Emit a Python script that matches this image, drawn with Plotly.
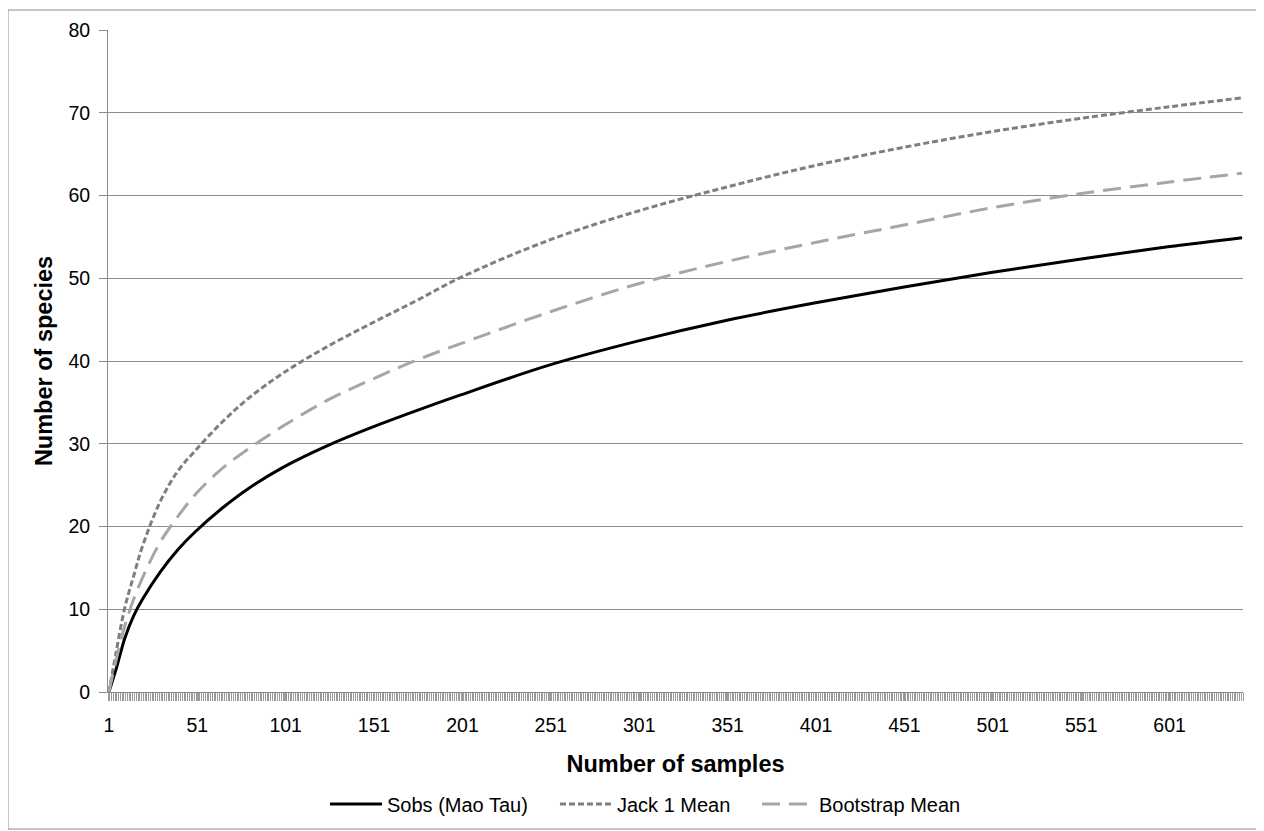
import plotly.graph_objects as go

# sample numbers at which values were read
samples = [1, 5, 10, 15, 20, 30, 40, 50, 65, 80, 100, 125, 150, 175, 200,
           250, 300, 350, 400, 450, 500, 550, 600, 642]

sobs = [0, 2.7, 6.5, 9.2, 11.2, 14.5, 17.2, 19.4, 22.2, 24.6, 27.2, 29.8, 32.0,
        34.0, 35.9, 39.5, 42.4, 44.9, 47.0, 48.9, 50.7, 52.3, 53.8, 54.9]

jack1 = [0, 4.7, 10.2, 14.0, 17.6, 23.0, 26.7, 29.2, 32.6, 35.5, 38.6, 41.8, 44.6,
         47.3, 50.1, 54.6, 58.1, 61.0, 63.6, 65.8, 67.7, 69.3, 70.7, 71.8]

bootstrap = [0, 3.8, 8.0, 11.2, 13.8, 18.1, 21.2, 23.9, 27.0, 29.4, 32.2, 35.3, 37.8,
             40.1, 42.1, 45.9, 49.3, 52.0, 54.3, 56.4, 58.5, 60.2, 61.6, 62.7]

x_ticks = [1, 51, 101, 151, 201, 251, 301, 351, 401, 451, 501, 551, 601]
y_ticks = [0, 10, 20, 30, 40, 50, 60, 70, 80]
n_samples = 642

FONT = "Liberation Sans, Arial, sans-serif"
TICK_SIZE = 19.5
LEGEND_SIZE = 20
TITLE_SIZE = 23.5

fig = go.Figure()
fig.add_trace(go.Scatter(x=samples, y=sobs, name="Sobs (Mao Tau)", mode="lines",
                         legend="legend",
                         line=dict(color="#000000", width=3, shape="spline")))
fig.add_trace(go.Scatter(x=samples, y=jack1, name="Jack 1 Mean", mode="lines",
                         legend="legend2",
                         line=dict(color="#7f7f7f", width=3, shape="spline", dash="6px,3px")))
fig.add_trace(go.Scatter(x=samples, y=bootstrap, name="Bootstrap Mean", mode="lines",
                         legend="legend3",
                         line=dict(color="#a6a6a6", width=3, shape="spline", dash="18px,9px")))

leg_common = dict(orientation="h", xanchor="left", y=-0.169, yanchor="middle",
                  font=dict(size=LEGEND_SIZE), itemwidth=52, bgcolor="rgba(0,0,0,0)")

fig.update_layout(
    width=1256, height=823,
    margin=dict(l=100, r=21, t=22, b=139, autoexpand=False),
    paper_bgcolor="white", plot_bgcolor="white",
    font=dict(family=FONT, size=TICK_SIZE, color="black"),
    showlegend=True,
    legend=dict(x=0.1912, **leg_common),
    legend2=dict(x=0.3938, **leg_common),
    legend3=dict(x=0.5718, **leg_common),
    xaxis=dict(
        range=[0.5, n_samples + 0.5], tickmode="array", tickvals=x_ticks,
        ticktext=[str(t) for t in x_ticks],
        showgrid=False, zeroline=False, showline=True, linecolor="#8c8c8c", linewidth=1,
        ticks="outside", ticklen=8, tickcolor="#9a9a9a", tickwidth=1,
        minor=dict(tick0=0.5, dtick=1, ticks="outside", ticklen=8,
                   tickcolor="#9a9a9a", tickwidth=1, showgrid=False),
        tickfont=dict(size=TICK_SIZE), ticklabelstandoff=8,
        title=dict(text="<b>Number of samples</b>", font=dict(size=TITLE_SIZE), standoff=20),
    ),
    yaxis=dict(
        range=[0, 80], tickmode="array", tickvals=y_ticks,
        showgrid=True, gridcolor="#8c8c8c", gridwidth=1,
        zeroline=False, showline=True, linecolor="#8c8c8c", linewidth=1,
        ticks="outside", ticklen=8, tickcolor="#8c8c8c",
        tickfont=dict(size=TICK_SIZE), ticklabelstandoff=5,
        title=dict(text="<b>Number of species</b>", font=dict(size=TITLE_SIZE), standoff=9),
    ),
    shapes=[dict(type="rect", xref="paper", yref="paper",
                 x0=-0.0881, x1=1.0167, y0=-0.207, y1=1.0302,
                 line=dict(color="#8c8c8c", width=1), fillcolor="rgba(0,0,0,0)")],
)

fig.write_html("out.html")
